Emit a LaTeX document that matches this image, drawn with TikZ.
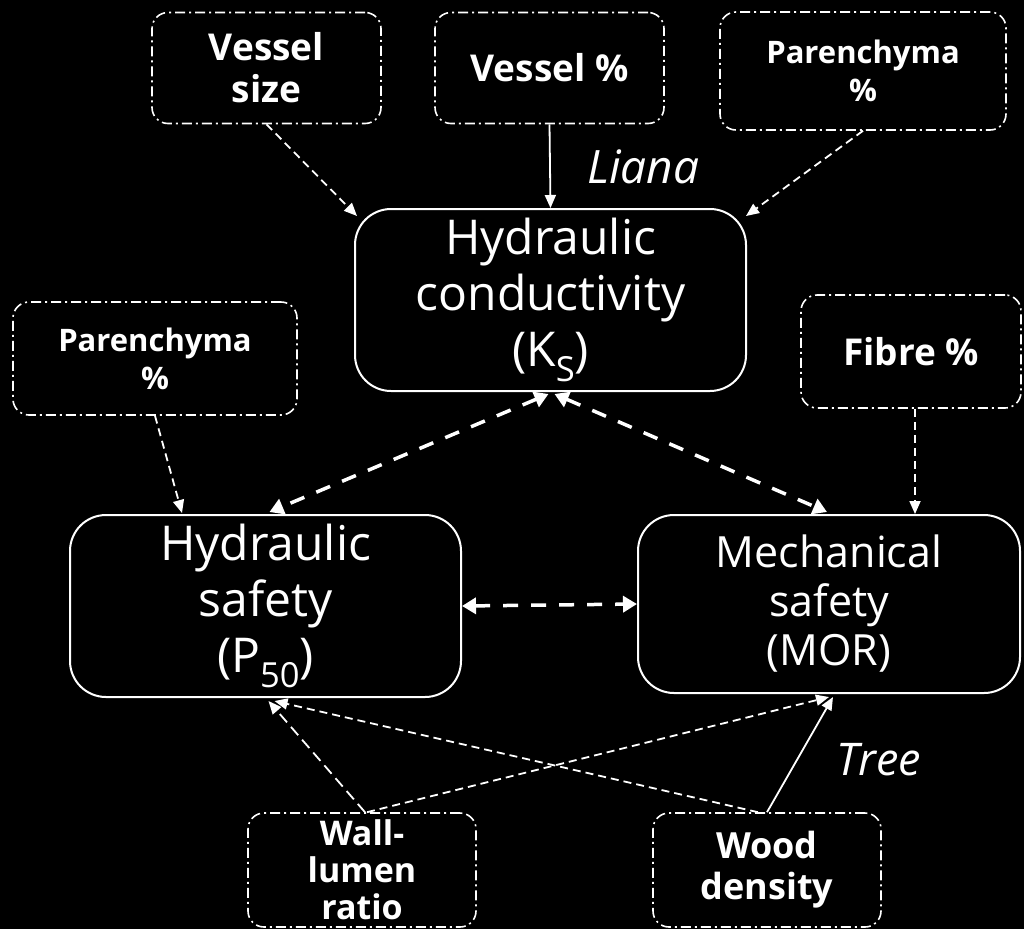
\documentclass[tikz,border=0pt]{standalone}
\usepackage{fontspec}
\setmainfont{Open Sans}
\usetikzlibrary{arrows.meta,calc}
\newcommand\mysub[1]{\raisebox{-0.32em}{\scalebox{0.72}{#1}}}
\begin{document}
\begin{tikzpicture}[x=1pt,y=-1pt,
  src/.style={draw=white, line width=1.6pt, dash pattern=on 10pt off 4pt on 2pt off 4pt, rounded corners=16pt, text=white, align=center, inner sep=0pt, font=\bfseries\fontsize{37}{42}\selectfont},
  main/.style={draw=white, line width=2pt, rounded corners=36pt, text=white, align=center, inner sep=0pt, font=\fontsize{48}{56}\selectfont},
  thin/.style={draw=white, line width=1.8pt, -{Triangle[length=13pt,width=11pt]}},
  thindash/.style={thin, dash pattern=on 8pt off 5pt},
  thick/.style={draw=white, line width=3.5pt, dash pattern=on 15pt off 13pt, {Triangle[length=14pt,width=16pt]}-{Triangle[length=14pt,width=16pt]}},
  lbl/.style={text=white, font=\itshape\fontsize{46}{50}\selectfont, inner sep=0pt}
]
\fill[black] (0,0) rectangle (1024,929);
\useasboundingbox (0,0) rectangle (1024,929);

\node[src, minimum width=229pt, minimum height=111pt] (vsize) at (266.5,68) {Vessel\\size};
\node[src, minimum width=229pt, minimum height=111pt] (vpct) at (549.5,68) {Vessel \%};
\node[src, minimum width=286pt, minimum height=118pt, font=\bfseries\fontsize{31}{38}\selectfont] (par1) at (863,71) {Parenchyma\\\%};
\node[main, minimum width=391pt, minimum height=182pt] (hc) at (550.5,300) {Hydraulic\\conductivity\\(K\mysub{S})};
\node[src, minimum width=284pt, minimum height=113pt, font=\bfseries\fontsize{31}{38}\selectfont] (par2) at (155,358.5) {Parenchyma\\\%};
\node[src, minimum width=220pt, minimum height=113pt] (fibre) at (911,351.5) {Fibre \%};
\node[main, minimum width=391pt, minimum height=182pt] (hs) at (265.5,606) {Hydraulic\\safety\\(P\mysub{50})};
\node[main, minimum width=382pt, minimum height=178pt, font=\fontsize{43}{49}\selectfont] (ms) at (829,604) {Mechanical\\safety\\(MOR)};
\node[src, minimum width=228pt, minimum height=114pt, font=\bfseries\fontsize{34}{37}\selectfont] (wl) at (362,870) {Wall-\\lumen\\ratio};
\node[src, minimum width=228pt, minimum height=114pt, font=\bfseries\fontsize{36}{41}\selectfont] (wd) at (767,870) {Wood\\density};

\node[lbl, anchor=base west] (liana) at (587,183) {Liana};
\node[lbl, anchor=base west, font=\itshape\fontsize{45}{50}\selectfont] (tree) at (836,775) {Tree};

\draw[thindash] (vsize.south) -- ($(hc.north west)+(3,8)$);
\draw[thin] (vpct.south) -- (hc.north);
\draw[thindash] (par1.south) -- ($(hc.north east)+(-1,8)$);
\draw[thindash] (par2.south) -- ($(hs.north west)+(113,-1)$);
\draw[thindash] (fibre.south -| 915,0) -- (915,514);
\draw[thick] ($(hc.south)+(-2,2)$) -- ($(hs.north)+(4,-2)$);
\draw[thick] ($(hc.south)+(4,2)$) -- ($(ms.north)+(-2,-2)$);
\draw[thick] (hs.east) -- (ms.east -| ms.west);
\draw[thindash, dash pattern=on 11pt off 6pt] ($(wl.north)+(3,0)$) -- ($(hs.south)+(3,3)$);
\draw[thindash] ($(wl.north)+(5,0)$) -- ($(ms.south)+(0,3)$);
\draw[thindash] ($(wd.north)+(-9,0)$) -- ($(hs.south)+(9,3)$);
\draw[thin] ($(wd.north)+(0,0)$) -- ($(ms.south)+(4,3)$);
\end{tikzpicture}
\end{document}
